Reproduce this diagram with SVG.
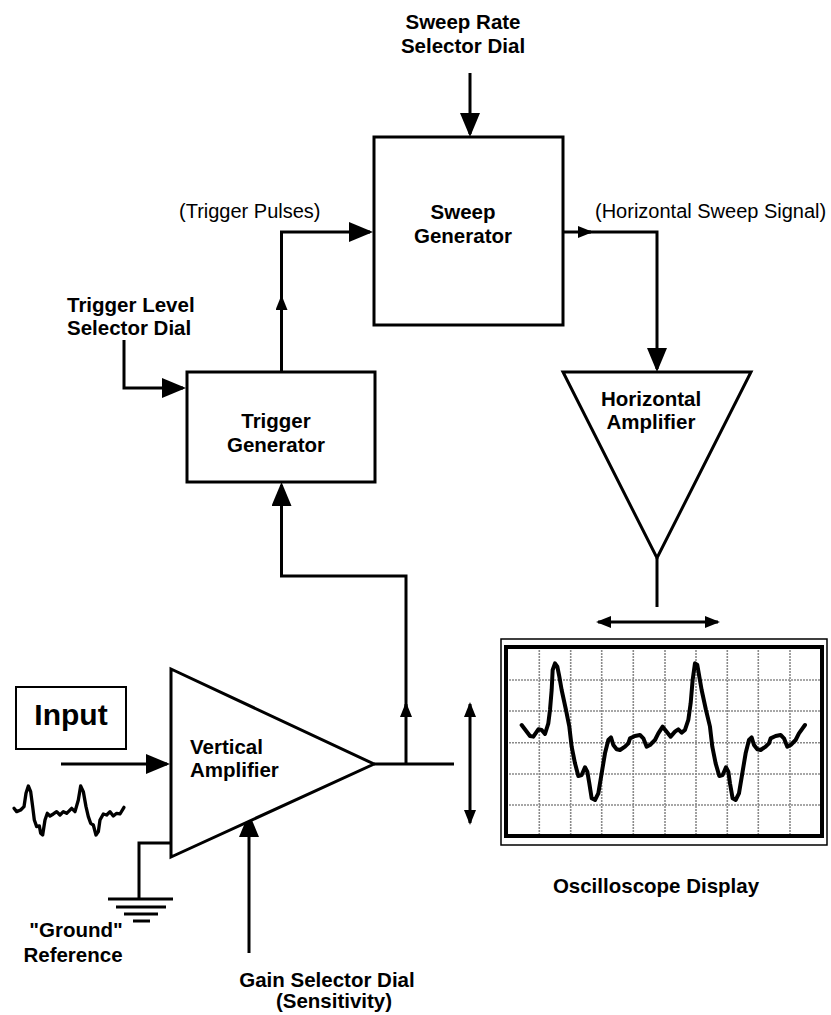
<svg xmlns="http://www.w3.org/2000/svg" width="831" height="1015" viewBox="0 0 831 1015">
<style>
.b{font-family:"Liberation Sans",Arial,sans-serif;font-weight:bold;font-size:20.5px;fill:#000}
.r{font-family:"Liberation Sans",Arial,sans-serif;font-size:20px;fill:#000}
.m{text-anchor:middle}
.ln{fill:none;stroke:#000;stroke-width:3}
.box{fill:#fff;stroke:#000;stroke-width:3}
.grid{stroke:#8a8a8a;stroke-width:1.6;stroke-dasharray:2 1}
.wave{fill:none;stroke:#000;stroke-linejoin:round;stroke-linecap:round}
</style>
<defs>
<marker id="big" viewBox="0 0 24 20" markerWidth="24" markerHeight="20" refX="21" refY="10" orient="auto" markerUnits="userSpaceOnUse"><path d="M0,0 L24,10 L0,20 z" fill="#000"/></marker>
<marker id="small" viewBox="0 0 15 12" markerWidth="15" markerHeight="12" refX="13" refY="6" orient="auto-start-reverse" markerUnits="userSpaceOnUse"><path d="M0,0 L15,6 L0,12 z" fill="#000"/></marker>
</defs>
<rect width="831" height="1015" fill="#fff"/>

<g id="connectors">
<path class="ln" d="M470,73 V134" marker-end="url(#big)"/>
<path class="ln" d="M281.5,372 V297" marker-end="url(#small)"/>
<path class="ln" d="M281.5,300 V232 H370" marker-end="url(#big)"/>
<path class="ln" d="M124,340 V388 H183" marker-end="url(#big)"/>
<path class="ln" d="M563,232 H591" marker-end="url(#small)"/>
<path class="ln" d="M588,232 H657 V369" marker-end="url(#big)"/>
<path class="ln" d="M657,558 V607"/>
<path class="ln" d="M598,622 H718" marker-start="url(#small)" marker-end="url(#small)"/>
<path class="ln" d="M374,764 H454"/>
<path class="ln" d="M406,764 V704" marker-end="url(#small)"/>
<path class="ln" d="M406,708 V576 H281.5 V485" marker-end="url(#big)"/>
<path class="ln" d="M470,704 V823" marker-start="url(#small)" marker-end="url(#small)"/>
<path class="ln" d="M61,764 H167" marker-end="url(#big)"/>
<path class="ln" d="M249,953 V816" marker-end="url(#big)"/>
<path class="ln" d="M171,843 H139 V899"/>
</g>

<g id="sweep-rate-label">
<text class="b m" x="463" y="29">Sweep Rate</text>
<text class="b m" x="463" y="53">Selector Dial</text>
</g>

<g id="sweep-generator">
<rect class="box" x="374" y="137" width="189" height="188"/>
<text class="b m" x="463" y="219">Sweep</text>
<text class="b m" x="463" y="243">Generator</text>
</g>

<g id="trigger-pulses-label"><text class="r" x="179" y="218">(Trigger Pulses)</text></g>
<g id="horizontal-sweep-label"><text class="r" x="595" y="218">(Horizontal Sweep Signal)</text></g>

<g id="trigger-level-label">
<text class="b" x="67" y="312">Trigger Level</text>
<text class="b" x="67" y="335">Selector Dial</text>
</g>

<g id="trigger-generator">
<rect class="box" x="187" y="372" width="188" height="110"/>
<text class="b m" x="276" y="428">Trigger</text>
<text class="b m" x="276" y="452">Generator</text>
</g>

<g id="horizontal-amplifier">
<polygon class="box" points="563,372 751,372 657,558"/>
<text class="b m" x="651" y="406">Horizontal</text>
<text class="b m" x="651" y="429">Amplifier</text>
</g>

<g id="input">
<rect x="16" y="687" width="110" height="62" fill="#fff" stroke="#000" stroke-width="2"/>
<text x="71" y="725" class="m" font-family="Liberation Sans, Arial, sans-serif" font-weight="bold" font-size="30">Input</text>
</g>

<g id="input-waveform">
<path class="wave" stroke-width="10" transform="translate(0,660) scale(0.3333)" d="M42,445 L50,455 L62,450 L72,440 L78,400 L85,378 L92,395 L98,440 L103,480 L110,500 L118,498 L122,520 L128,525 L135,480 L142,460 L150,468 L160,462 L170,455 L180,465 L190,455 L200,460 L215,445 L225,455 L235,420 L242,378 L250,395 L258,440 L265,470 L272,490 L280,495 L288,525 L295,515 L300,480 L310,462 L320,465 L330,455 L340,468 L350,460 L360,462 L372,442"/>
</g>

<g id="vertical-amplifier">
<polygon class="box" points="171,669 171,857 374,764"/>
<text class="b" x="190" y="754">Vertical</text>
<text class="b" x="190" y="777">Amplifier</text>
</g>

<g id="ground">
<line x1="108" y1="899" x2="173" y2="899" stroke="#000" stroke-width="3"/>
<line x1="116" y1="907" x2="166" y2="907" stroke="#000" stroke-width="3"/>
<line x1="124" y1="914" x2="158" y2="914" stroke="#000" stroke-width="3"/>
<line x1="133" y1="921" x2="150" y2="921" stroke="#000" stroke-width="3"/>
<text class="b m" x="76" y="937">"Ground"</text>
<text class="b m" x="73" y="962">Reference</text>
</g>

<g id="gain-label">
<text class="b m" x="327" y="987">Gain Selector Dial</text>
<text class="b m" x="334" y="1008">(Sensitivity)</text>
</g>

<g id="oscilloscope-display">
<rect x="501" y="639" width="326" height="206" fill="#fff" stroke="#000" stroke-width="1.5"/>
<g class="grid">
<line x1="539.3" y1="647" x2="539.3" y2="836"/>
<line x1="570.7" y1="647" x2="570.7" y2="836"/>
<line x1="601.7" y1="647" x2="601.7" y2="836"/>
<line x1="633.3" y1="647" x2="633.3" y2="836"/>
<line x1="665" y1="647" x2="665" y2="836"/>
<line x1="696" y1="647" x2="696" y2="836"/>
<line x1="727.3" y1="647" x2="727.3" y2="836"/>
<line x1="758.3" y1="647" x2="758.3" y2="836"/>
<line x1="790" y1="647" x2="790" y2="836"/>
<line x1="506" y1="680" x2="822" y2="680"/>
<line x1="506" y1="711" x2="822" y2="711"/>
<line x1="506" y1="742.7" x2="822" y2="742.7"/>
<line x1="506" y1="774" x2="822" y2="774"/>
<line x1="506" y1="805" x2="822" y2="805"/>
</g>
<rect x="506" y="647" width="316" height="189" fill="none" stroke="#000" stroke-width="4"/>
<path class="wave" stroke-width="12" transform="translate(480,630) scale(0.3333)" d="M125,285 L150,318 L160,320 L175,298 L185,300 L195,312 L205,280 L210,240 L215,180 L218,120 L225,100 L232,110 L238,140 L245,180 L258,240 L268,290 L275,350 L285,400 L295,438 L305,435 L315,412 L322,425 L328,460 L335,505 L345,510 L355,490 L365,430 L375,370 L385,330 L393,322 L400,345 L410,358 L420,360 L435,350 L445,340 L450,325 L465,318 L480,315 L490,325 L500,350 L510,345 L525,330 L535,310 L548,290 L560,305 L572,320 L585,305 L595,298 L605,308 L615,300 L625,270 L632,220 L638,150 L645,100 L652,105 L658,140 L665,180 L678,240 L690,290 L697,350 L707,400 L718,438 L728,435 L738,412 L745,425 L750,460 L758,505 L767,510 L777,490 L787,430 L797,370 L807,330 L815,322 L822,345 L832,358 L842,360 L857,350 L867,340 L872,325 L887,318 L902,315 L912,325 L922,350 L932,345 L947,330 L957,310 L975,285"/>
<text class="b m" x="656" y="893">Oscilloscope Display</text>
</g>
</svg>
